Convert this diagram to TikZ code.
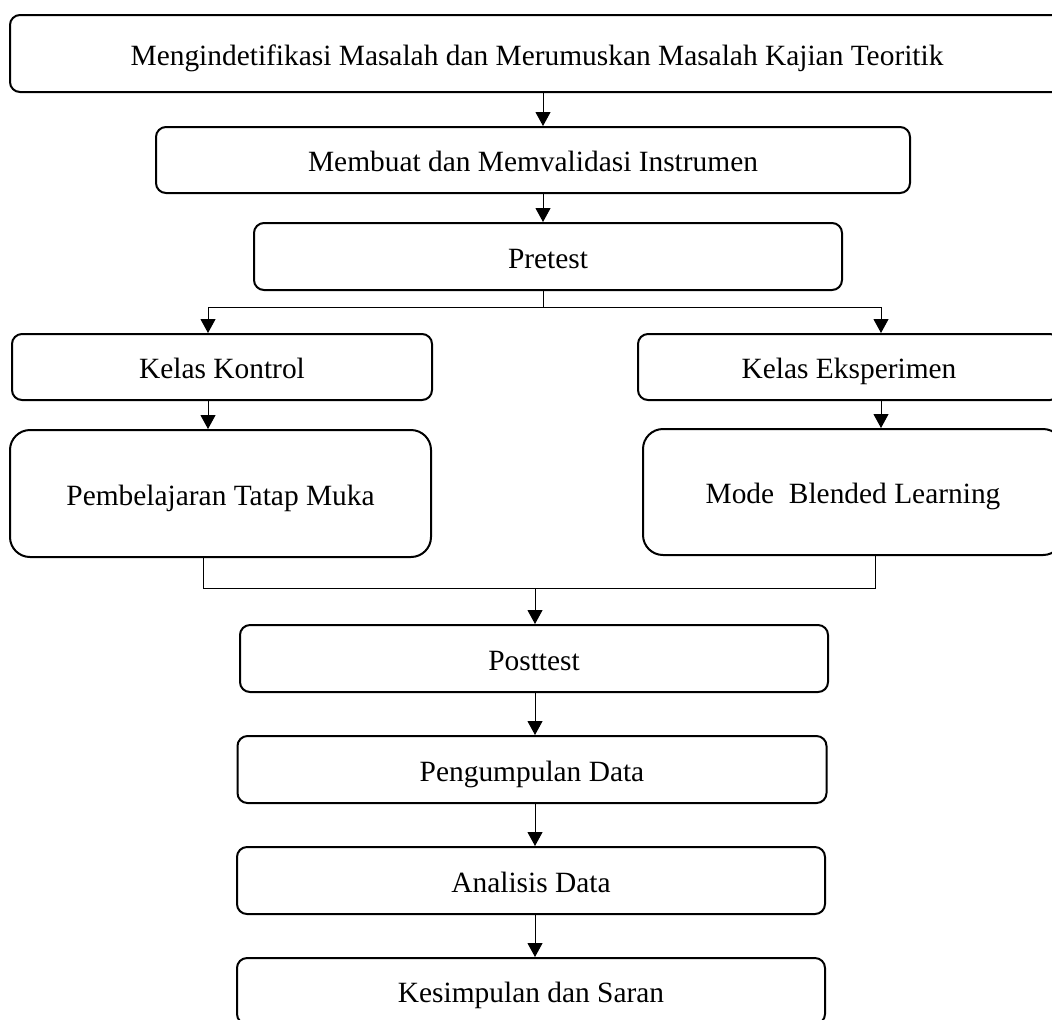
\documentclass[tikz,border=0pt]{standalone}
\usepackage{fontspec}
\setmainfont{Liberation Serif}
\usepackage{tikz}
\usetikzlibrary{arrows.meta,calc}

\begin{document}
\begin{tikzpicture}[x=0.5pt, y=-0.5pt,
  box/.style={draw, line width=1pt, rounded corners=5pt, align=center, inner sep=0pt,
    text height=14pt, text depth=2.5pt, font=\fontsize{14.7}{17}\selectfont},
  tall box/.style={box, rounded corners=10pt},
  line/.style={-, line width=0.5pt},
  arr/.style={line, -{Triangle[width=7.5pt, length=7pt]}}]
\useasboundingbox (0,0) rectangle (1052,1019);
\node[box, minimum width=527pt, minimum height=38.5pt] (top) at (537,53.5) {Mengindetifikasi Masalah dan Merumuskan Masalah Kajian Teoritik};
\node[box, minimum width=377pt, minimum height=33pt] (instr) at (533,160) {Membuat dan Memvalidasi Instrumen};
\node[box, minimum width=294pt, minimum height=33.5pt] (pre) at (548,256.5) {Pretest};
\node[box, minimum width=210pt, minimum height=33pt] (kontrol) at (222,367) {Kelas Kontrol};
\node[box, minimum width=211pt, minimum height=33pt] (eksp) at (849,367) {Kelas Eksperimen};
\node[tall box, minimum width=210.5pt, minimum height=63.5pt] (tatap) at (220.5,493.5) {Pembelajaran Tatap Muka};
\node[tall box, minimum width=210pt, minimum height=63pt] (blend) at (853,492) {Mode\ \ Blended Learning};
\node[box, minimum width=294pt, minimum height=33.5pt] (post) at (534,658.5) {Posttest};
\node[box, minimum width=294.5pt, minimum height=33.5pt] (kumpul) at (532,769.5) {Pengumpulan Data};
\node[box, minimum width=294pt, minimum height=33.5pt] (analisis) at (531,880.5) {Analisis Data};
\node[box, minimum width=294pt, minimum height=33pt] (simpul) at (531,991) {Kesimpulan dan Saran};
% branch and merge points
\coordinate (c1) at (543,0);
\coordinate (split) at (543,307);
\coordinate (kl) at (208,307);
\coordinate (kr) at (881,307);
\coordinate (ml) at (203,588);
\coordinate (mr) at (875,588);
\coordinate (merge) at (535,588);
\draw[arr] (top.south -| c1) -- (instr.north -| c1);
\draw[arr] (instr.south -| c1) -- (pre.north -| c1);
\draw[line] (pre.south -| split) -- (split);
\draw[arr] (split) -- (kl) -- (kontrol.north -| kl);
\draw[arr] (split) -- (kr) -- (eksp.north -| kr);
\draw[arr] (kontrol.south -| kl) -- (tatap.north -| kl);
\draw[arr] (eksp.south -| kr) -- (blend.north -| kr);
\draw[line] (tatap.south -| ml) -- (ml) -- (mr) -- (blend.south -| mr);
\draw[arr] (merge) -- (post.north -| merge);
\draw[arr] (post.south -| merge) -- (kumpul.north -| merge);
\draw[arr] (kumpul.south -| merge) -- (analisis.north -| merge);
\draw[arr] (analisis.south -| merge) -- (simpul.north -| merge);
\end{tikzpicture}
\end{document}
